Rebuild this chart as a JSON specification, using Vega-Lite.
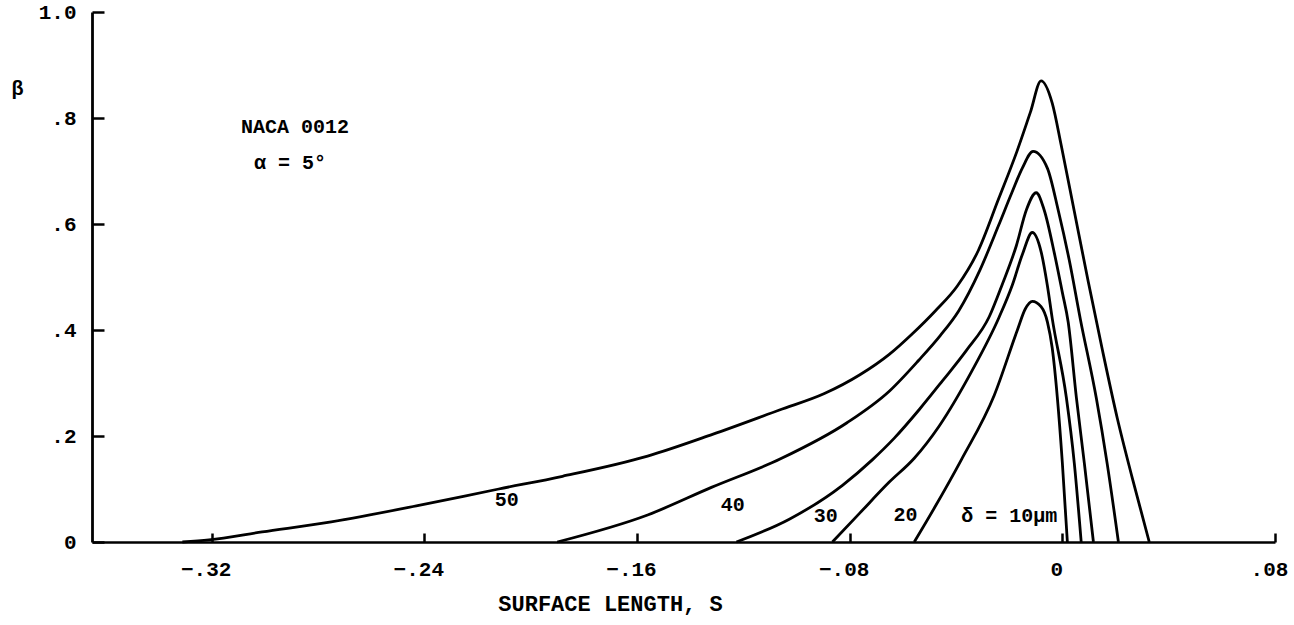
{
  "$schema": "https://vega.github.io/schema/vega-lite/v6.json",
  "width": 1183,
  "height": 530,
  "autosize": {"type": "none"},
  "padding": {"left": 92, "top": 12, "right": 19, "bottom": 83},
  "background": "white",
  "config": {"view": {"stroke": null}, "font": "Liberation Mono"},
  "datasets": {
    "curves": [
      {"delta": "50", "s": -0.331, "beta": 0},
      {"delta": "50", "s": -0.321, "beta": 0.004},
      {"delta": "50", "s": -0.301, "beta": 0.019},
      {"delta": "50", "s": -0.275, "beta": 0.038},
      {"delta": "50", "s": -0.243, "beta": 0.068},
      {"delta": "50", "s": -0.212, "beta": 0.100},
      {"delta": "50", "s": -0.188, "beta": 0.124},
      {"delta": "50", "s": -0.156, "beta": 0.162},
      {"delta": "50", "s": -0.1316, "beta": 0.203},
      {"delta": "50", "s": -0.1064, "beta": 0.249},
      {"delta": "50", "s": -0.0895, "beta": 0.280},
      {"delta": "50", "s": -0.0763, "beta": 0.315},
      {"delta": "50", "s": -0.0651, "beta": 0.354},
      {"delta": "50", "s": -0.0564, "beta": 0.393},
      {"delta": "50", "s": -0.0478, "beta": 0.436},
      {"delta": "50", "s": -0.0395, "beta": 0.483},
      {"delta": "50", "s": -0.0316, "beta": 0.550},
      {"delta": "50", "s": -0.024, "beta": 0.647},
      {"delta": "50", "s": -0.017, "beta": 0.738},
      {"delta": "50", "s": -0.012, "beta": 0.811},
      {"delta": "50", "s": -0.008, "beta": 0.870},
      {"delta": "50", "s": -0.0038, "beta": 0.828},
      {"delta": "50", "s": -0.0004, "beta": 0.748},
      {"delta": "50", "s": 0.0045, "beta": 0.624},
      {"delta": "50", "s": 0.0098, "beta": 0.490},
      {"delta": "50", "s": 0.0150, "beta": 0.364},
      {"delta": "50", "s": 0.0207, "beta": 0.233},
      {"delta": "50", "s": 0.0263, "beta": 0.121},
      {"delta": "50", "s": 0.0327, "beta": 0},
      {"delta": "40", "s": -0.190, "beta": 0},
      {"delta": "40", "s": -0.156, "beta": 0.051},
      {"delta": "40", "s": -0.132, "beta": 0.103},
      {"delta": "40", "s": -0.106, "beta": 0.157},
      {"delta": "40", "s": -0.081, "beta": 0.225},
      {"delta": "40", "s": -0.065, "beta": 0.285},
      {"delta": "40", "s": -0.054, "beta": 0.343},
      {"delta": "40", "s": -0.046, "beta": 0.389},
      {"delta": "40", "s": -0.039, "beta": 0.436},
      {"delta": "40", "s": -0.031, "beta": 0.513},
      {"delta": "40", "s": -0.024, "beta": 0.597},
      {"delta": "40", "s": -0.019, "beta": 0.659},
      {"delta": "40", "s": -0.015, "beta": 0.706},
      {"delta": "40", "s": -0.011, "beta": 0.737},
      {"delta": "40", "s": -0.0056, "beta": 0.705},
      {"delta": "40", "s": -0.0015, "beta": 0.625},
      {"delta": "40", "s": 0.0026, "beta": 0.532},
      {"delta": "40", "s": 0.0068, "beta": 0.420},
      {"delta": "40", "s": 0.0128, "beta": 0.271},
      {"delta": "40", "s": 0.0169, "beta": 0.147},
      {"delta": "40", "s": 0.0211, "beta": 0},
      {"delta": "30", "s": -0.1226, "beta": 0},
      {"delta": "30", "s": -0.1027, "beta": 0.043},
      {"delta": "30", "s": -0.0827, "beta": 0.107},
      {"delta": "30", "s": -0.0715, "beta": 0.155},
      {"delta": "30", "s": -0.0632, "beta": 0.196},
      {"delta": "30", "s": -0.0538, "beta": 0.250},
      {"delta": "30", "s": -0.0451, "beta": 0.304},
      {"delta": "30", "s": -0.0360, "beta": 0.362},
      {"delta": "30", "s": -0.0275, "beta": 0.425},
      {"delta": "30", "s": -0.0226, "beta": 0.486},
      {"delta": "30", "s": -0.0173, "beta": 0.559},
      {"delta": "30", "s": -0.0135, "beta": 0.627},
      {"delta": "30", "s": -0.0098, "beta": 0.659},
      {"delta": "30", "s": -0.0068, "beta": 0.626},
      {"delta": "30", "s": -0.0030, "beta": 0.545},
      {"delta": "30", "s": 0.0000, "beta": 0.471},
      {"delta": "30", "s": 0.0022, "beta": 0.415},
      {"delta": "30", "s": 0.0053, "beta": 0.272},
      {"delta": "30", "s": 0.0083, "beta": 0.148},
      {"delta": "30", "s": 0.0117, "beta": 0},
      {"delta": "20", "s": -0.0865, "beta": 0},
      {"delta": "20", "s": -0.0763, "beta": 0.054},
      {"delta": "20", "s": -0.0651, "beta": 0.113},
      {"delta": "20", "s": -0.0557, "beta": 0.158},
      {"delta": "20", "s": -0.0463, "beta": 0.219},
      {"delta": "20", "s": -0.0342, "beta": 0.321},
      {"delta": "20", "s": -0.0237, "beta": 0.425},
      {"delta": "20", "s": -0.0188, "beta": 0.485},
      {"delta": "20", "s": -0.0150, "beta": 0.543},
      {"delta": "20", "s": -0.0113, "beta": 0.584},
      {"delta": "20", "s": -0.0079, "beta": 0.546},
      {"delta": "20", "s": -0.0056, "beta": 0.483},
      {"delta": "20", "s": -0.0038, "beta": 0.422},
      {"delta": "20", "s": 0.0015, "beta": 0.273},
      {"delta": "20", "s": 0.0045, "beta": 0.149},
      {"delta": "20", "s": 0.0071, "beta": 0},
      {"delta": "10", "s": -0.0557, "beta": 0},
      {"delta": "10", "s": -0.0481, "beta": 0.0645},
      {"delta": "10", "s": -0.0380, "beta": 0.155},
      {"delta": "10", "s": -0.0256, "beta": 0.277},
      {"delta": "10", "s": -0.0169, "beta": 0.400},
      {"delta": "10", "s": -0.0139, "beta": 0.440},
      {"delta": "10", "s": -0.0113, "beta": 0.454},
      {"delta": "10", "s": -0.0080, "beta": 0.444},
      {"delta": "10", "s": -0.0056, "beta": 0.415},
      {"delta": "10", "s": -0.0038, "beta": 0.366},
      {"delta": "10", "s": -0.0019, "beta": 0.274},
      {"delta": "10", "s": 0.0000, "beta": 0.150},
      {"delta": "10", "s": 0.0019, "beta": 0}
    ],
    "notes": [
      {"label": "50", "s": -0.209, "beta": 0.080},
      {"label": "40", "s": -0.124, "beta": 0.070},
      {"label": "30", "s": -0.089, "beta": 0.050},
      {"label": "20", "s": -0.059, "beta": 0.051},
      {"label": "δ = 10μm", "s": -0.020, "beta": 0.049},
      {"label": "NACA 0012", "s": -0.2886, "beta": 0.783},
      {"label": "α = 5°", "s": -0.2905, "beta": 0.715}
    ]
  },
  "layer": [
    {
      "data": {"name": "curves"},
      "mark": {"type": "line", "interpolate": "monotone", "color": "black", "strokeWidth": 2.8},
      "encoding": {
        "x": {
          "field": "s", "type": "quantitative",
          "scale": {"domain": [-0.365, 0.08], "nice": false, "zero": false},
          "axis": {
            "title": "SURFACE LENGTH, S",
            "values": [-0.32, -0.24, -0.16, -0.08, 0, 0.08],
            "labelExpr": "datum.value == 0 ? '0' : replace(format(datum.value, '.2f'), '0.', '.')",
            "grid": false,
            "domainColor": "black", "domainWidth": 2.5,
            "tickColor": "black", "tickWidth": 2.5, "tickSize": -9,
            "labelPadding": 25, "labelOffset": -6,
            "labelFont": "Liberation Mono", "labelFontWeight": "bold", "labelFontSize": 21, "labelColor": "black",
            "labelFlush": false, "labelOverlap": false,
            "titleFont": "Liberation Mono", "titleFontWeight": "bold", "titleFontSize": 22, "titleColor": "black",
            "titleX": 518, "titleY": 61, "titleAlign": "center", "titleBaseline": "middle"
          }
        },
        "y": {
          "field": "beta", "type": "quantitative",
          "scale": {"domain": [0, 1], "nice": false, "zero": true},
          "axis": {
            "title": "β", "titleAngle": 0,
            "values": [0, 0.2, 0.4, 0.6, 0.8, 1.0],
            "labelExpr": "datum.value == 0 ? '0' : (datum.value == 1 ? '1.0' : replace(format(datum.value, '.1f'), '0.', '.'))",
            "grid": false,
            "domainColor": "black", "domainWidth": 2.8,
            "tickColor": "black", "tickWidth": 2.5, "tickSize": -12,
            "labelPadding": 28,
            "labelFont": "Liberation Mono", "labelFontWeight": "bold", "labelFontSize": 21, "labelColor": "black",
            "labelFlush": false, "labelOverlap": false,
            "titleFont": "Liberation Mono", "titleFontWeight": "bold", "titleFontSize": 20, "titleColor": "black",
            "titleX": -75, "titleY": 76, "titleAlign": "center", "titleBaseline": "middle"
          }
        },
        "detail": {"field": "delta", "type": "nominal"}
      }
    },
    {
      "data": {"name": "notes"},
      "mark": {"type": "text", "font": "Liberation Mono", "fontWeight": "bold", "fontSize": 20, "color": "black", "align": "center", "baseline": "middle"},
      "encoding": {
        "x": {"field": "s", "type": "quantitative"},
        "y": {"field": "beta", "type": "quantitative"},
        "text": {"field": "label", "type": "nominal"}
      }
    }
  ]
}
